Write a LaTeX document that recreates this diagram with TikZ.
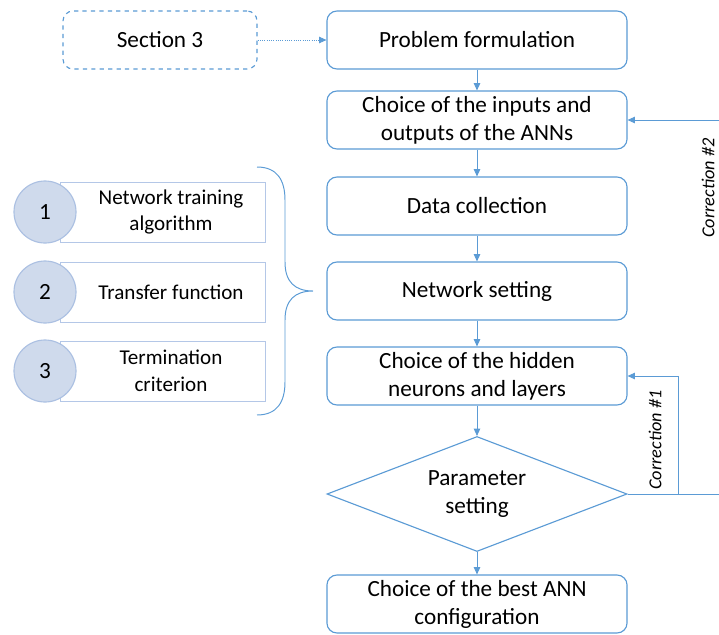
\documentclass[tikz,border=0pt]{standalone}
\usepackage{fontspec}
\setmainfont{Carlito}
\usetikzlibrary{arrows.meta, shapes.geometric, shapes.misc}

\tikzset{
	mainbox/.style={draw=annblue, line width=0.8pt, rounded corners=0.25cm, fill=white,
		minimum width=7.5cm, minimum height=1.45cm, align=center, inner sep=2pt},
	decision/.style={draw=annblue, line width=0.8pt, diamond, shape aspect=2.6, fill=white,
		minimum width=7.5cm, minimum height=2.875cm, align=center, inner sep=0pt},
	secbox/.style={mainbox, dashed, minimum width=4.85cm},
	flow/.style={draw=annblue, line width=0.6pt, -{Triangle[length=1.8mm, width=1.6mm]}},
	itembox/.style={draw=itemline, line width=0.6pt, fill=white, chamfered rectangle,
		chamfered rectangle corners={north west, south west},
		chamfered rectangle xsep=0.375cm, chamfered rectangle ysep=0.375cm,
		minimum width=5.125cm, minimum height=1.5cm, inner sep=0pt},
	itemnum/.style={circle, draw=circline, line width=0.8pt, fill=circfill,
		minimum size=1.55cm, inner sep=0pt, font=\fontsize{16.5}{18}\selectfont},
	itemtext/.style={align=center, font=\fontsize{15}{19}\selectfont},
	corrlabel/.style={rotate=90, font=\fontsize{13}{15}\selectfont\itshape}
}

\begin{document}
\begin{tikzpicture}[x=0.025cm, y=-0.025cm, font=\fontsize{16.5}{20}\selectfont]
	\definecolor{annblue}{RGB}{91, 155, 213}
	\definecolor{itemline}{RGB}{180, 199, 231}
	\definecolor{circline}{RGB}{171, 192, 226}
	\definecolor{circfill}{RGB}{207, 218, 236}

	\useasboundingbox (0,0) rectangle (719,634);
	\clip (0,0) rectangle (719,634);

	% 主流程
	\node[mainbox] (prob) at (477,40) {Problem formulation};
	\node[mainbox] (inout) at (477,120) {Choice of the inputs and\\outputs of the ANNs};
	\node[mainbox] (data) at (477,206) {Data collection};
	\node[mainbox] (net) at (477,291) {Network setting};
	\node[mainbox] (hidden) at (477,376) {Choice of the hidden\\neurons and layers};
	\node[decision] (param) at (477,494) {Parameter\\setting};
	\node[mainbox] (best) at (477,604) {Choice of the best ANN\\configuration};

	% Section 3
	\node[secbox] (sec) at (160,40) {Section 3};
	\draw[flow, densely dotted, line width=0.5pt] (sec) -- (prob);

	% 箭头
	\draw[flow] (prob) -- (inout);
	\draw[flow] (inout) -- (data);
	\draw[flow] (data) -- (net);
	\draw[flow] (net) -- (hidden);
	\draw[flow] (hidden) -- (param);
	\draw[flow] (param) -- (best);

	% 反馈（Correction #2 的竖线在图外）
	\coordinate (c2low) at (800,494);
	\coordinate (c2up) at (800,120);
	\draw[flow] (param.east) -- ++(51,0) |- (hidden.east);
	\draw[flow] (param.east) -- (c2low) -- (c2up) -- (inout.east);
	\node[corrlabel] (corr1) at (655,440) {Correction \#1};
	\node[corrlabel] (corr2) at (708,188) {Correction \#2};

	% 网络设置的三项
	\foreach \i/\y/\txt in {1/212/{Network training\\algorithm}, 2/292/{Transfer function}, 3/371/{Termination\\criterion}} {
		\node[itembox] (box\i) at (162.5,\y) {};
		\node[itemtext] (txt\i) at (171,\y) {\txt};
		\node[itemnum] (num\i) at (45,\y) {\i};
	}

	% 大括号
	\draw[annblue, line width=0.7pt] (257,167) .. controls (277,167) and (285,180) .. (285,200)
		-- (285,262) .. controls (285,282) and (295,291) .. (313,291)
		.. controls (295,291) and (285,300) .. (285,320)
		-- (285,382) .. controls (285,402) and (277,415) .. (257,415);
\end{tikzpicture}
\end{document}
